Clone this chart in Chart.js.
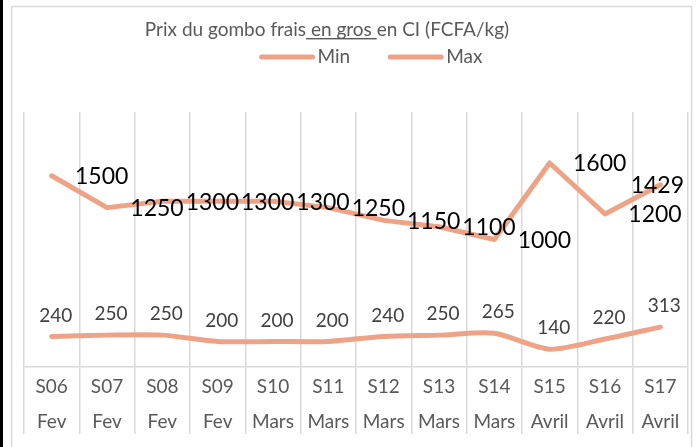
<!DOCTYPE html>
<html>
<head>
<meta charset="utf-8">
<script src="https://cdn.jsdelivr.net/npm/chart.js@4"></script>
<style>
  html, body { margin: 0; padding: 0; background: #fff; }
  #wrap { width: 696px; height: 447px; }
</style>
</head>
<body>
<div id="wrap"><canvas id="graphe" width="696" height="447"></canvas></div>
<script>
const semaines = ['S06', 'S07', 'S08', 'S09', 'S10', 'S11', 'S12', 'S13', 'S14', 'S15', 'S16', 'S17'];
const mois = ['Fev', 'Fev', 'Fev', 'Fev', 'Mars', 'Mars', 'Mars', 'Mars', 'Mars', 'Avril', 'Avril', 'Avril'];
const prixMin = [240, 250, 250, 200, 200, 200, 240, 250, 265, 140, 220, 313];
const prixMax = [1500, 1250, 1300, 1300, 1300, 1250, 1150, 1100, 1000, 1600, 1200, 1429];

const saumon = '#EEA386';
const gris = '#595959';

// fond, trait noir a gauche et cadre gris
const cadre = {
  id: 'cadre',
  beforeDraw(chart) {
    const ctx = chart.ctx;
    ctx.save();
    ctx.fillStyle = '#fff';
    ctx.fillRect(0, 0, chart.width, chart.height);
    ctx.fillStyle = '#000';
    ctx.fillRect(0, 0, 3, chart.height);
    ctx.strokeStyle = '#d9d9d9';
    ctx.lineWidth = 1.5;
    ctx.strokeRect(11.5, 6.5, 680, 470);
    ctx.restore();
  }
};

// titre (avec "en gros" souligne) et legende
const entete = {
  id: 'entete',
  afterDraw(chart) {
    const ctx = chart.ctx;
    ctx.save();
    ctx.font = '19px Lato';
    ctx.fillStyle = gris;
    ctx.textBaseline = 'middle';
    const a = 'Prix du gombo frais', b = ' en gros ', c = 'en CI (FCFA/kg)';
    const wa = ctx.measureText(a).width, wb = ctx.measureText(b).width, wc = ctx.measureText(c).width;
    let x = 327 - (wa + wb + wc) / 2;
    ctx.fillText(a, x, 30);
    ctx.fillText(b, x + wa, 30);
    ctx.fillText(c, x + wa + wb, 30);
    ctx.fillRect(x + wa, 38, wb, 1.4);

    // legende
    const items = chart.data.datasets.map(d => ({ txt: d.label, col: d.borderColor, w: 55 + 3 + ctx.measureText(d.label).width }));
    const total = items.reduce((s, it) => s + it.w, 0) + 38 * (items.length - 1);
    x = 371 - total / 2;
    items.forEach(it => {
      ctx.strokeStyle = it.col;
      ctx.lineWidth = 5;
      ctx.lineCap = 'round';
      ctx.beginPath();
      ctx.moveTo(x + 2, 57);
      ctx.lineTo(x + 53, 57);
      ctx.stroke();
      ctx.fillText(it.txt, x + 58, 57);
      x += it.w + 38;
    });
    ctx.restore();
  }
};

// etiquettes de valeurs
const etiquettes = {
  id: 'etiquettes',
  afterDatasetsDraw(chart) {
    const ctx = chart.ctx;
    const area = chart.chartArea;
    ctx.save();
    ctx.textAlign = 'center';
    ctx.textBaseline = 'middle';
    chart.data.datasets.forEach((ds, i) => {
      const meta = chart.getDatasetMeta(i);
      const estMax = i === 1;
      ctx.font = estMax ? '23px Lato' : '19px Lato';
      ctx.fillStyle = estMax ? '#000' : '#404040';
      meta.data.forEach((pt, j) => {
        const txt = String(ds.data[j]);
        const w = ctx.measureText(txt).width;
        let x = estMax ? pt.x + 50 : pt.x + 4;
        if (x + w / 2 > area.right - 4) x = area.right - 4 - w / 2;
        const y = estMax ? pt.y + 1 : pt.y - 21;
        ctx.fillText(txt, x, y);
      });
    });
    ctx.restore();
  }
};

new Chart(document.getElementById('graphe'), {
  type: 'line',
  data: {
    labels: semaines.map((s, i) => [s, mois[i]]),
    datasets: [
      {
        label: 'Min',
        data: prixMin,
        borderColor: saumon,
        backgroundColor: saumon,
        borderWidth: 5,
        pointRadius: 0,
        tension: 0.25,
        borderCapStyle: 'round',
        borderJoinStyle: 'round'
      },
      {
        label: 'Max',
        data: prixMax,
        borderColor: saumon,
        backgroundColor: saumon,
        borderWidth: 5,
        pointRadius: 0,
        tension: 0,
        borderCapStyle: 'round',
        borderJoinStyle: 'round'
      }
    ]
  },
  options: {
    responsive: false,
    animation: false,
    devicePixelRatio: 1,
    layout: { padding: { left: 24, right: 8, top: 112, bottom: 0 } },
    plugins: {
      legend: { display: false },
      title: { display: false },
      tooltip: { enabled: false }
    },
    scales: {
      x: {
        offset: true,
        grid: { offset: true, color: '#d9d9d9', lineWidth: 1.5, tickLength: 67, drawTicks: true },
        border: { color: '#d9d9d9', width: 1.5 },
        ticks: {
          color: gris,
          font: { family: 'Lato', size: 19, lineHeight: '35px' },
          padding: -64.5,
          maxRotation: 0,
          autoSkip: false
        },
        afterFit(scale) { scale.height = 80; }
      },
      y: { display: false, min: 0, max: 2000 }
    }
  },
  plugins: [cadre, entete, etiquettes]
});
</script>
</body>
</html>
